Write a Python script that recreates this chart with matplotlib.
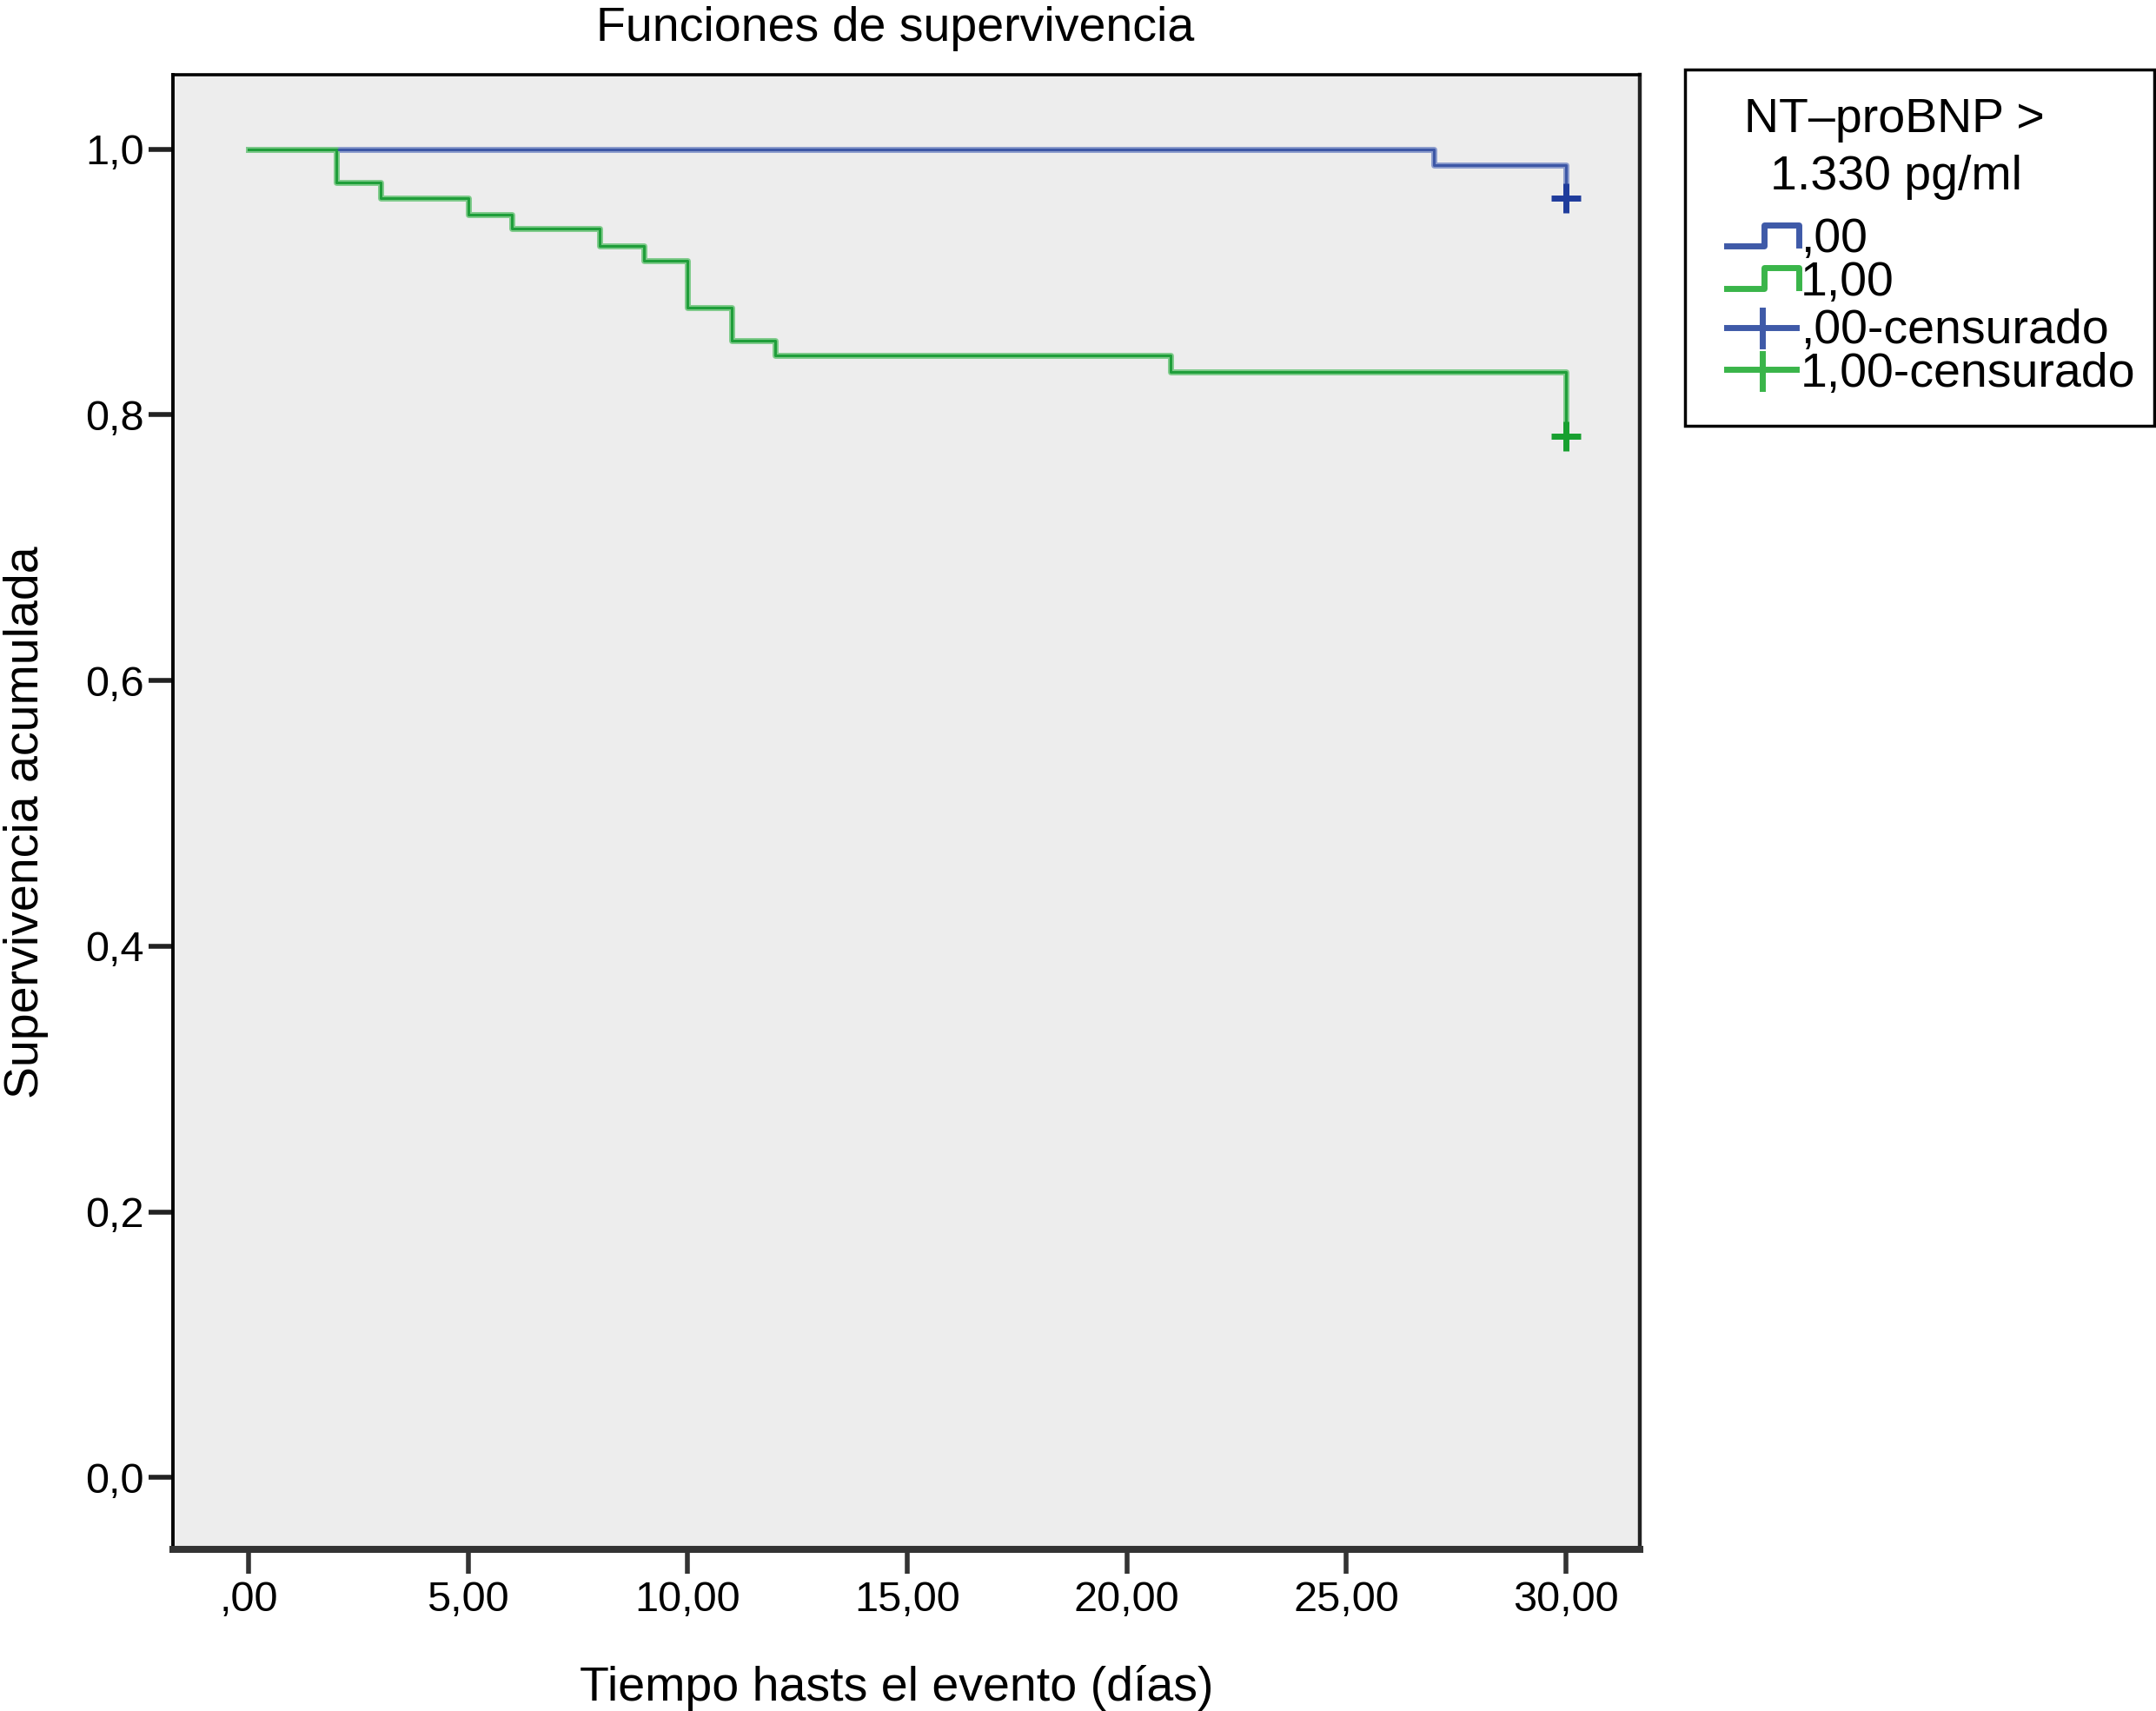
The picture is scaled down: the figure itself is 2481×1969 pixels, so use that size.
import matplotlib.pyplot as plt
from matplotlib.lines import Line2D
from matplotlib.patches import Rectangle

plt.rcParams['font.family'] = ['Liberation Sans', 'DejaVu Sans']

# datos de la curva de Kaplan-Meier
t_bajo = [0, 27, 30]
s_bajo = [1.0, 0.988, 0.963]
t_alto = [0, 2, 3, 5, 6, 8, 9, 10, 11, 12, 21, 30]
s_alto = [1.0, 0.975, 0.963, 0.951, 0.940, 0.927, 0.916, 0.881, 0.856, 0.845, 0.832, 0.784]
cens_t = [30, 30]
cens_s = [0.963, 0.784]

x_ticks = [0, 5, 10, 15, 20, 25, 30]
x_labels = [',00', '5,00', '10,00', '15,00', '20,00', '25,00', '30,00']
y_ticks = [0.0, 0.2, 0.4, 0.6, 0.8, 1.0]
y_labels = ['0,0', '0,2', '0,4', '0,6', '0,8', '1,0']

leg_labels = [',00', '1,00', ',00-censurado', '1,00-censurado']

W, H = 2481, 1969
azul, azul_claro, azul_osc = '#3d57a6', '#8c9ccd', '#1f3c9c'
verde, verde_claro, verde_osc = '#1f9e3a', '#7fcb8b', '#18a030'

fig = plt.figure(figsize=(W / 100, H / 100), dpi=100)
ax = fig.add_axes([199 / W, 1 - 1783 / H, (1887 - 199) / W, (1783 - 86) / H])
ax.set_facecolor('#ededed')

# banda clara + linea oscura (como en SPSS)
ax.step(t_bajo, s_bajo, where='post', color=azul_claro, lw=5.0, zorder=2)
ax.step(t_bajo, s_bajo, where='post', color=azul, lw=2.2, zorder=3)
ax.step(t_alto, s_alto, where='post', color=verde_claro, lw=5.0, zorder=2)
ax.step(t_alto, s_alto, where='post', color=verde, lw=2.2, zorder=3)
ax.plot(cens_t[0], cens_s[0], '+', color=azul_osc, ms=25, mew=5, zorder=4)
ax.plot(cens_t[1], cens_s[1], '+', color=verde_osc, ms=25, mew=5, zorder=4)

ax.set_xlim(-1.72, 31.68)
ax.set_ylim(-0.054, 1.056)
ax.set_xticks(x_ticks)
ax.set_xticklabels(x_labels)
ax.set_yticks(y_ticks)
ax.set_yticklabels(y_labels)
ax.tick_params(axis='x', length=20, width=4, color='#333333', pad=6, labelsize=35)
ax.tick_params(axis='y', length=20, width=4, color='#222222', pad=4, labelsize=35)

for lado, lw, col in [('left', 2.8, 'black'), ('top', 2.6, 'black'),
                      ('bottom', 5.8, '#333333'), ('right', 3.2, '#222222')]:
    ax.spines[lado].set_linewidth(lw)
    ax.spines[lado].set_color(col)

fig.text(1030 / W, 1 - 47 / H, 'Funciones de supervivencia', ha='center',
         va='baseline', fontsize=40)
fig.text(1032 / W, 1 - 1957 / H, 'Tiempo hasts el evento (días)', ha='center',
         va='baseline', fontsize=40)
fig.text(30 / W, 1 - 946 / H, 'Supervivencia acumulada', ha='center',
         va='center', rotation=90, fontsize=40)

# leyenda dibujada a mano en pixeles
lax = fig.add_axes([0, 0, 1, 1])
lax.set_xlim(0, W)
lax.set_ylim(H, 0)
lax.axis('off')
lax.add_patch(Rectangle((1939, 80), 540, 410, fill=False, ec='black', lw=2.5))
lax.text(2007, 152, 'NT–proBNP >', fontsize=40, va='baseline')
lax.text(2037, 218, '1.330 pg/ml', fontsize=40, va='baseline')

leg_azul, leg_verde = '#3f5aa8', '#3ab54a'
lax.add_line(Line2D([1987, 2030, 2030, 2070, 2070], [283, 283, 259, 259, 282],
                    color=leg_azul, lw=5))
lax.add_line(Line2D([1987, 2030, 2030, 2070, 2070], [332, 332, 308, 308, 331],
                    color=leg_verde, lw=5))
lax.add_line(Line2D([1987, 2067], [377, 377], color=leg_azul, lw=5))
lax.add_line(Line2D([2028, 2028], [357, 398], color=leg_azul, lw=5))
lax.add_line(Line2D([1987, 2067], [425, 425], color=leg_verde, lw=5))
lax.add_line(Line2D([2028, 2028], [407, 447], color=leg_verde, lw=5))

for txt, yb in zip(leg_labels, [290, 340, 395, 445]):
    lax.text(2072, yb, txt, fontsize=40, va='baseline')

plt.savefig('out.png', dpi=100)
